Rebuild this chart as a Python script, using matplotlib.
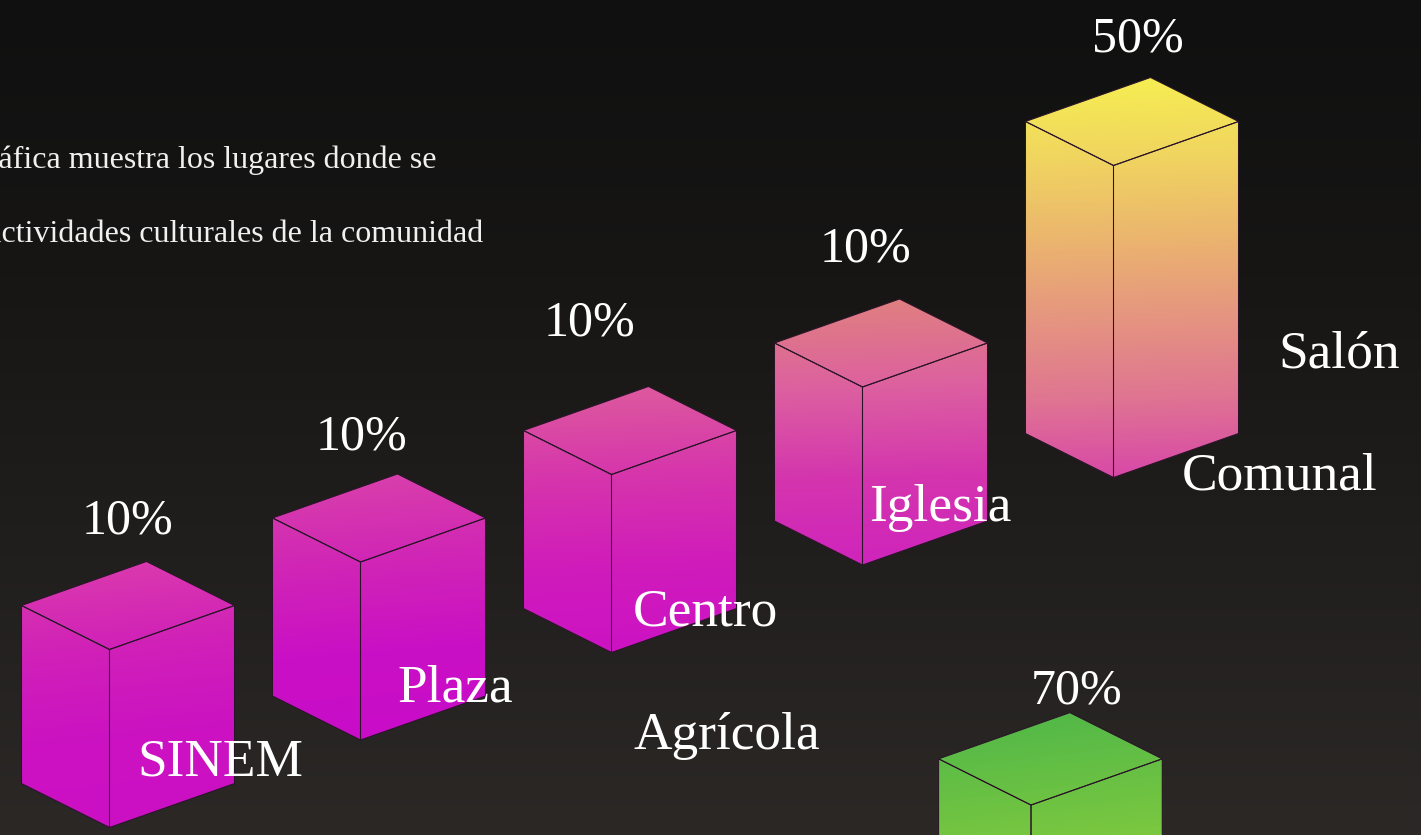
import numpy as np
import matplotlib
matplotlib.use("Agg")
import matplotlib.pyplot as plt
from matplotlib.patches import Polygon
from matplotlib.colors import LinearSegmentedColormap

# ---- data ----
categories = ["SINEM", "Plaza", "Centro", "Iglesia", "Salón Comunal"]
percentages = [10, 10, 10, 10, 50]
extra_category = "Agrícola"
extra_percentage = 70
caption_lines = ["La gráfica muestra los lugares donde se",
                 "realizan actividades culturales de la comunidad"]

# ---- layout (pixel space of the reference) ----
W, H = 1421, 835
plt.rcParams["font.family"] = ["Liberation Serif", "DejaVu Serif"]
fig = plt.figure(figsize=(W / 100, H / 100), dpi=100)
ax = fig.add_axes([0, 0, 1, 1])
ax.set_xlim(0, W)
ax.set_ylim(H, 0)
ax.axis("off")


def height_of(v):
    return 144.5 + 3.35 * v


yy, xx = np.mgrid[0:H, 0:W]

# background
bg = LinearSegmentedColormap.from_list("bg", ["#101010", "#171615", "#211f1e", "#2b2826"])
ax.imshow(bg(yy / (H - 1))[..., :3], extent=(0, W, H, 0), aspect="auto", zorder=0, interpolation="bilinear")

# one colour ramp per box, top to bottom
box_ramps = [
    ["#da3aae", "#d020b8", "#cb12c2", "#cb10c4"],
    ["#d840ab", "#d025b6", "#ca10c5", "#c80cc8"],
    ["#dd5a9e", "#d635ac", "#d01cba", "#cc12c4"],
    ["#e08080", "#dc60a0", "#d435ae", "#cf24bc"],
    ["#f6ee52", "#f0d460", "#ebb56e", "#e59580", "#df7592", "#d848a8"],
]
slants = [0.1, 0.08, 0.04, 0.03, 0.03]


def ramp_image(colors, x, top, base, slant):
    cmap = LinearSegmentedColormap.from_list("r", colors)
    t = (yy + slant * (xx - x) - top) / (base - top)
    return cmap(np.clip(t, 0, 1))[..., :3]


def draw_box(x, base, value, colors, k=1.0, z=2, slant=0.05):
    left, right, dy = 88 * k, 125 * k, 44 * k
    top = base - height_of(value) * k
    img = ramp_image(colors, x, top - 2 * dy, base, slant)
    fl = [(x - left, top - dy), (x, top), (x, base), (x - left, base - dy)]
    fr = [(x, top), (x + right, top - dy), (x + right, base - dy), (x, base)]
    ft = [(x - left, top - dy), (x + right - left, top - 2 * dy), (x + right, top - dy), (x, top)]
    for pts in (fl, fr, ft):
        im = ax.imshow(img, extent=(0, W, H, 0), aspect="auto", zorder=z, interpolation="bilinear")
        im.set_clip_path(Polygon(pts, closed=True, transform=ax.transData, facecolor="none"))
        ax.add_patch(Polygon(pts, closed=True, facecolor="none", edgecolor="#2a1428", lw=0.75, zorder=z + 0.1))


box_x = [109.5 + 251 * i for i in range(len(categories))]
box_base = [827.5 - 87.5 * i for i in range(len(categories))]
for x, b, v, r, s in zip(box_x, box_base, percentages, box_ramps, slants):
    draw_box(x, b, v, r, slant=s)

# the green box continues below the canvas
green_ramp = ["#52b848", "#84cb3e", "#b0dc30", "#d0e830"]
draw_box(1031, 1203, extra_percentage, green_ramp, k=1.05, slant=0.12)

ax.set_xlim(0, W)
ax.set_ylim(H, 0)

# percentage labels
pct_x = [128, 361, 590, 866, 1138]
pct_y = [533, 449, 335, 262, 52]
for px, py, v in zip(pct_x, pct_y, percentages):
    ax.text(px, py, f"{v}%", color="white", fontsize=36, ha="center", va="baseline", zorder=5)
ax.text(1077, 704, f"{extra_percentage}%", color="white", fontsize=36, ha="center", va="baseline", zorder=5)

# category labels
label_pos = [(137, 775), (397, 701), (633, 626), (869, 521)]
for name, (lx, ly) in zip(categories[:4], label_pos):
    ax.text(lx, ly, name, color="white", fontsize=38.4, ha="left", va="baseline", zorder=5)
salon, comunal = categories[4].split(" ")
ax.text(1278, 367, salon, color="white", fontsize=38.4, ha="left", va="baseline", zorder=5)
ax.text(1182, 489, comunal, color="white", fontsize=38.4, ha="left", va="baseline", zorder=5)
ax.text(634, 749, extra_category, color="white", fontsize=38.4, ha="left", va="baseline", zorder=5)

# caption, cut off by the left edge of the canvas
ax.text(437, 168, caption_lines[0], color="#f0f0f0", fontsize=23, ha="right", va="baseline", zorder=5, clip_on=True)
ax.text(483, 242, caption_lines[1], color="#f0f0f0", fontsize=23, ha="right", va="baseline", zorder=5, clip_on=True)

fig.savefig("out.png", dpi=100)
